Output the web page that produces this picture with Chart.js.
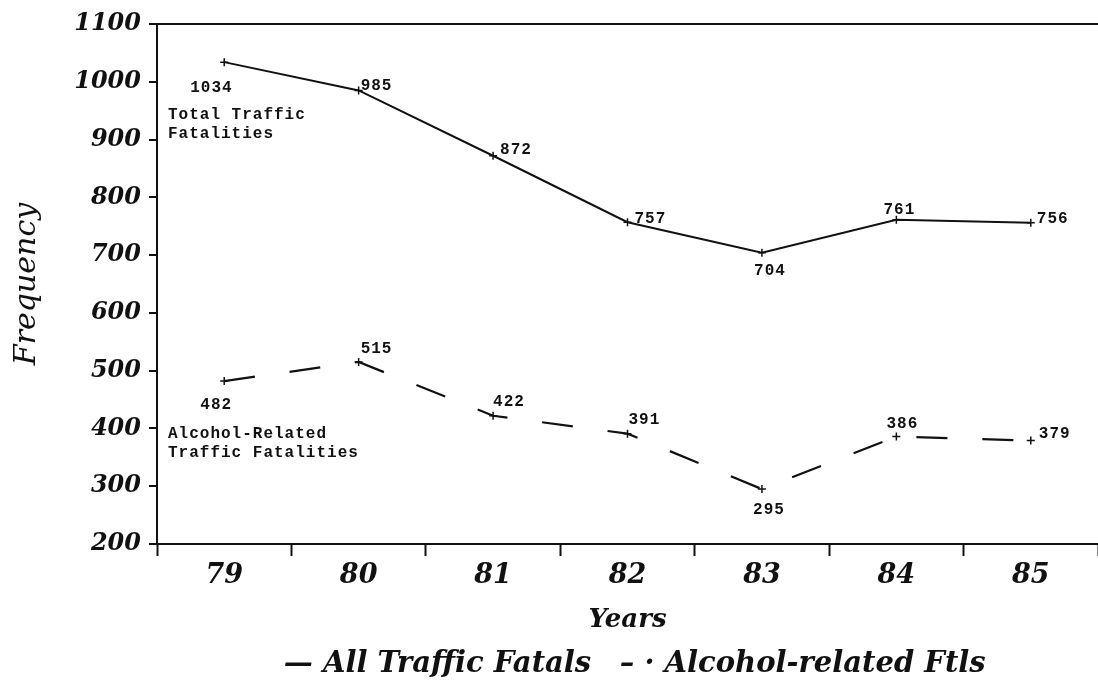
<!DOCTYPE html>
<html>
<head>
<meta charset="utf-8">
<script src="https://cdn.jsdelivr.net/npm/chart.js@4.4.0/dist/chart.umd.min.js"></script>
<style>
  html, body { margin: 0; background: #fff; overflow: hidden; }
  #wrap { width: 1098px; height: 682px; }
</style>
</head>
<body>
<div id="wrap"><canvas id="chart"></canvas></div>
<script>
// data
const years = ['79', '80', '81', '82', '83', '84', '85'];
const totalFatal = [1034, 985, 872, 757, 704, 761, 756];
const alcoholFatal = [482, 515, 422, 391, 295, 386, 379];
const yMin = 200, yMax = 1100, yStep = 100;
const seriesNames = [['Total Traffic', 'Fatalities'], ['Alcohol-Related', 'Traffic Fatalities']];
const legendText = ['— All Traffic Fatals', '\u00a0– · Alcohol-related Ftls'];

// where each value label sits relative to its point: [dx, dy, align]
const labelPos = [
  [[-34, 26, 'left'], [2, -4, 'left'], [7, -6, 'left'], [7, -3, 'left'], [8, 18, 'center'], [3, -10, 'center'], [6, -4, 'left']],
  [[-8, 24, 'center'], [2, -13, 'left'], [0, -14, 'left'], [1, -14, 'left'], [7, 21, 'center'], [6, -13, 'center'], [8, -7, 'left']]
];

const ink = '#111';
const serifBI = (size) => ({family: '"DejaVu Serif", serif', style: 'italic', weight: 'bold', size: size});

// typed value labels + series names inside the plot
const valueLabels = {
  id: 'valueLabels',
  afterDatasetsDraw(chart) {
    const ctx = chart.ctx;
    ctx.save();
    ctx.font = 'bold 16px "Liberation Mono", monospace';
    ctx.letterSpacing = '1px';
    ctx.fillStyle = ink;
    ctx.textBaseline = 'middle';
    chart.data.datasets.forEach((ds, di) => {
      const meta = chart.getDatasetMeta(di);
      meta.data.forEach((pt, i) => {
        const [dx, dy, al] = labelPos[di][i];
        ctx.textAlign = al;
        ctx.fillText(String(ds.data[i]), pt.x + dx, pt.y + dy);
      });
      const p0 = meta.data[0];
      ctx.textAlign = 'left';
      seriesNames[di].forEach((t, k) => ctx.fillText(t, chart.chartArea.left + 11, p0.y + 53 + k * 19));
    });
    ctx.restore();
  }
};

new Chart(document.getElementById('chart'), {
  type: 'line',
  data: {
    labels: years,
    datasets: [
      {label: legendText[0], data: totalFatal, borderColor: ink, borderWidth: 2, tension: 0, fill: false,
       pointStyle: 'cross', pointRadius: 4, pointBorderWidth: 1.5, pointBorderColor: ink},
      {label: legendText[1], data: alcoholFatal, borderColor: ink, borderWidth: 2.2, borderDash: [31, 35], tension: 0, fill: false,
       pointStyle: 'cross', pointRadius: 4, pointBorderWidth: 1.5, pointBorderColor: ink}
    ]
  },
  options: {
    responsive: true,
    maintainAspectRatio: false,
    animation: false,
    layout: {autoPadding: false, padding: {top: 24, right: 0, bottom: -7, left: 0}},
    plugins: {
      legend: {
        position: 'bottom',
        fullSize: false,
        labels: {
          boxWidth: 0, boxHeight: 0, padding: 4, color: ink, font: serifBI(29),
          generateLabels: (chart) => chart.data.datasets.map((d, i) => ({
            text: d.label, fillStyle: 'rgba(0,0,0,0)', strokeStyle: 'rgba(0,0,0,0)',
            lineWidth: 0, datasetIndex: i, hidden: false, fontColor: ink
          }))
        }
      },
      tooltip: {enabled: false}
    },
    scales: {
      x: {
        offset: true,
        grid: {offset: true, drawOnChartArea: false, tickLength: 12, tickColor: ink, tickWidth: 2},
        border: {color: ink, width: 2},
        ticks: {color: ink, padding: 4, font: serifBI(27)},
        title: {display: true, text: 'Years', color: ink, font: serifBI(26), padding: {top: 0, bottom: 10}},
        afterFit(s) { s.height = 102; }
      },
      y: {
        min: yMin, max: yMax,
        ticks: {stepSize: yStep, padding: 8, color: ink, font: serifBI(24), callback: (v) => String(v)},
        grid: {color: (c) => c.tick.value === yMax ? ink : 'rgba(0,0,0,0)', lineWidth: 2,
               tickLength: 8, tickColor: ink, tickWidth: 2},
        border: {color: ink, width: 2},
        title: {display: true, text: 'Frequency', color: ink, padding: {top: 9, bottom: 0},
                font: {family: '"DejaVu Serif", serif', style: 'italic', size: 30}},
        afterFit(s) { s.width = 157; }
      }
    }
  },
  plugins: [valueLabels]
});
</script>
</body>
</html>
